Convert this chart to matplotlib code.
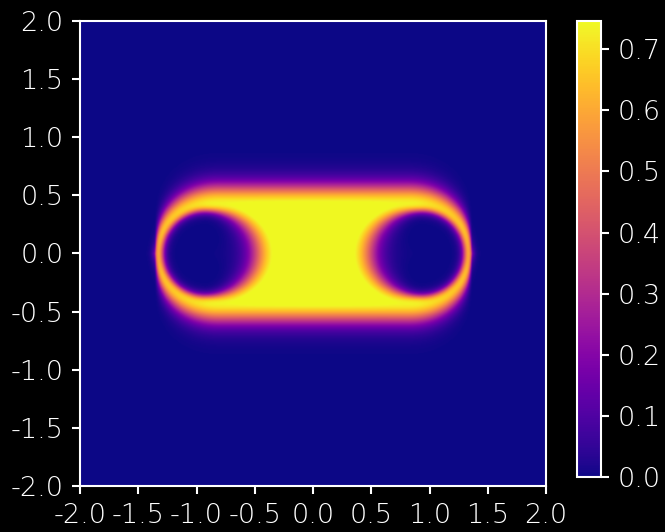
import numpy as np
import matplotlib
matplotlib.use('Agg')
import matplotlib.pyplot as plt

plt.rcParams['font.family'] = ['DejaVu Sans']
plt.rcParams['font.weight'] = 'light'

# shape of the field
hole_x = [-0.93, 0.93]      # centres of the two holes
hole_r_out = 0.37           # hole radius on the outer / top side
hole_r_in = 0.45            # hole radius on the side facing the middle
hole_soft_out = 0.02
hole_soft_in = 0.065
cap_x = 0.8                 # where the rounded caps start
cap_rx = 0.56               # cap half-width (edge at |x| = 1.36)
cap_pow = 2.2
band_ry = 0.555             # half-height of the band
band_soft = 0.055
cap_soft = 0.015
peak = 0.85
vmin, vmax = 0.0, 0.746

xticks = [-2.0, -1.5, -1.0, -0.5, 0.0, 0.5, 1.0, 1.5, 2.0]
yticks = [-2.0, -1.5, -1.0, -0.5, 0.0, 0.5, 1.0, 1.5, 2.0]
cticks = [0.0, 0.1, 0.2, 0.3, 0.4, 0.5, 0.6, 0.7]

def sig(t):
    return 1.0 / (1.0 + np.exp(-t))

n = 500
xs = np.linspace(-2, 2, n)
X, Y = np.meshgrid(xs, xs)

ax_ = np.abs(X)
u = np.clip((ax_ - cap_x) / cap_rx, 0, 1)
top = band_ry * (1 - u**cap_pow) ** (1 / cap_pow)
env = sig((top - np.abs(Y)) / band_soft) * sig((cap_x + cap_rx - ax_) / cap_soft)

hole = np.ones_like(X)
for cx in hole_x:
    dx = X - cx
    r = np.hypot(dx, Y) + 1e-9
    inward = np.clip(-np.sign(cx) * dx / r, 0, 1)
    r0 = hole_r_out + (hole_r_in - hole_r_out) * inward**2
    s = hole_soft_out + (hole_soft_in - hole_soft_out) * inward**2
    hole = hole * sig((r - r0) / s)

Z = np.minimum(peak * env * hole, vmax)

fig = plt.figure(figsize=(6.65, 5.32), dpi=100)
fig.patch.set_facecolor('black')
ax = fig.add_axes([0.1203, 0.0865, 0.7008, 0.874])
cax = fig.add_axes([0.8677, 0.1034, 0.036, 0.857])

im = ax.imshow(Z, extent=[-2, 2, -2, 2], origin='lower', cmap='plasma',
               vmin=vmin, vmax=vmax, interpolation='bilinear', aspect='auto')
ax.set_xticks(xticks)
ax.set_yticks(yticks)
ax.set_xticklabels(['%.1f' % v for v in xticks])
ax.set_yticklabels(['%.1f' % v for v in yticks])

cb = fig.colorbar(im, cax=cax, ticks=cticks)
cb.ax.set_yticklabels(['%.1f' % v for v in cticks])
cb.outline.set_edgecolor('white')
cb.outline.set_linewidth(1.5)

for a in (ax, cax):
    a.set_facecolor('black')
    for sp in a.spines.values():
        sp.set_color('white')
        sp.set_linewidth(1.5)
    a.tick_params(colors='white', labelcolor='white', labelsize=19.5,
                  length=6, width=1.5, pad=6)

fig.savefig('out.png', dpi=100, facecolor='black')
